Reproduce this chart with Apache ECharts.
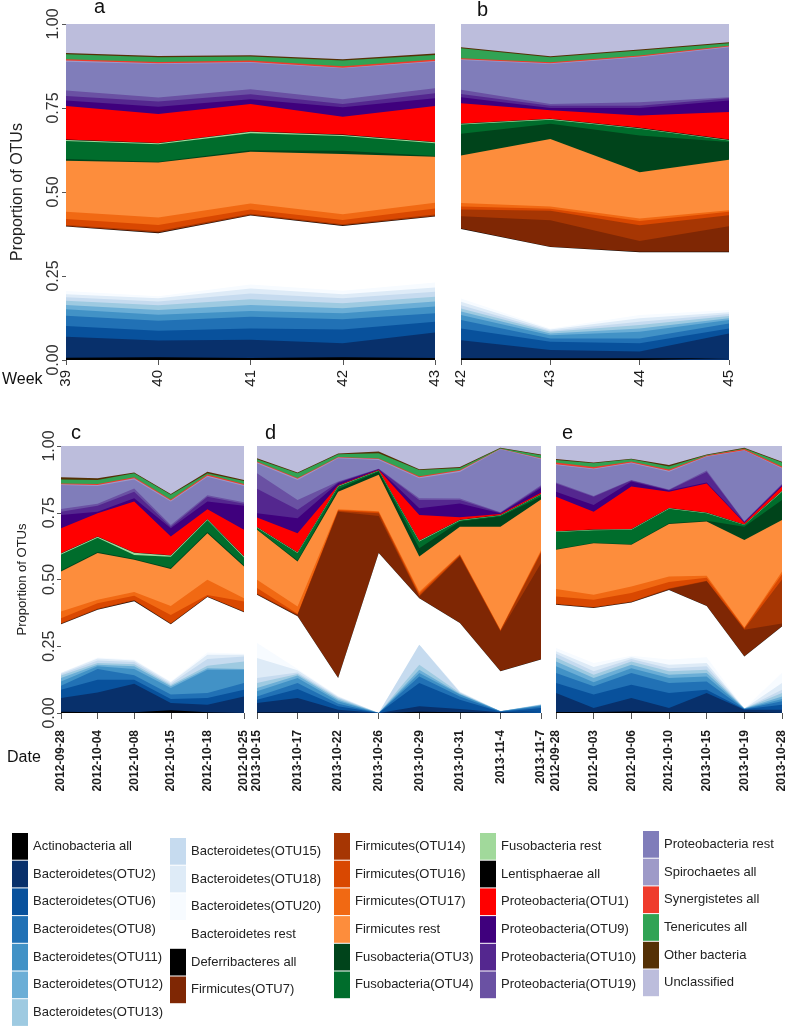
<!DOCTYPE html>
<html><head><meta charset="utf-8">
<script src="https://cdn.jsdelivr.net/npm/echarts@6/dist/echarts.min.js"></script>
<style>html,body{margin:0;padding:0;background:#fff}#chart{width:792px;height:1028px}</style>
</head><body><div id="chart"></div>
<script>
const seriesNames = ['Actinobacteria all','Bacteroidetes(OTU2)','Bacteroidetes(OTU6)','Bacteroidetes(OTU8)','Bacteroidetes(OTU11)','Bacteroidetes(OTU12)','Bacteroidetes(OTU13)','Bacteroidetes(OTU15)','Bacteroidetes(OTU18)','Bacteroidetes(OTU20)','Bacteroidetes rest','Deferribacteres all','Firmicutes(OTU7)','Firmicutes(OTU14)','Firmicutes(OTU16)','Firmicutes(OTU17)','Firmicutes rest','Fusobacteria(OTU3)','Fusobacteria(OTU4)','Fusobacteria rest','Lentisphaerae all','Proteobacteria(OTU1)','Proteobacteria(OTU9)','Proteobacteria(OTU10)','Proteobacteria(OTU19)','Proteobacteria rest','Spirochaetes all','Synergistetes all','Tenericutes all','Other bacteria','Unclassified'];
const seriesColors = ['#000000','#08306b','#08519c','#2171b5','#4292c6','#6baed6','#9ecae1','#c6dbef','#deebf7','#f7fbff','#ffffff','#000000','#7f2704','#a63603','#d94801','#f16913','#fd8d3c','#00441b','#006d2c','#a1d99b','#000000','#ff0000','#3f007d','#54278f','#6a51a3','#807dba','#9e9ac8','#ef3b2c','#31a354','#543005','#bcbddc'];
const weeksA = ['39','40','41','42','43'];
const weeksB = ['42','43','44','45'];
const datesC = ['2012-09-28','2012-10-04','2012-10-08','2012-10-15','2012-10-18','2012-10-25'];
const datesD = ['2013-10-15','2013-10-17','2013-10-22','2013-10-26','2013-10-29','2013-10-31','2013-11-4','2013-11-7'];
const datesE = ['2012-09-28','2012-10-03','2012-10-06','2012-10-10','2013-10-15','2013-10-19','2013-10-28'];
const yTicks = ['0.00','0.25','0.50','0.75','1.00'];

// rows follow seriesNames order; columns follow the panel's x categories
const panelA = [
[.007,.008,.006,.008,.006],[.062,.050,.054,.042,.076],[.032,.029,.034,.041,.032],[.031,.030,.035,.030,.025],
[.019,.018,.017,.018,.020],[.013,.014,.018,.015,.015],[.012,.014,.017,.015,.014],[.011,.011,.017,.015,.015],
[.009,.010,.015,.012,.013],[.009,.006,.012,.010,.015],[.192,.187,.205,.193,.196],[.001,.002,.001,.001,.001],
[.001,.001,.001,.001,.001],[.003,.004,.003,.003,.004],[.018,.018,.013,.013,.018],[.021,.022,.018,.017,.017],
[.152,.164,.154,.179,.137],[.005,.002,.004,.010,.002],[.054,.052,.051,.044,.038],[.003,.003,.004,.003,.003],
[.001,.001,.001,.001,.001],[.100,.086,.082,.053,.107],[.016,.022,.014,.028,.023],[.014,.015,.015,.010,.015],
[.016,.012,.015,.014,.015],[.086,.100,.079,.092,.079],[.003,.002,.002,.002,.002],[.004,.004,.004,.004,.004],
[.015,.014,.012,.017,.014],[.004,.004,.004,.004,.004],[.086,.095,.093,.105,.088]];
const panelB = [
[.005,.005,.005,.005],[.054,.025,.020,.074],[.035,.024,.025,.015],[.025,.010,.014,.015],
[.015,.010,.020,.010],[.010,.005,.010,.005],[.009,.005,.010,.007],[.010,.003,.010,.006],
[.010,.004,.010,.005],[.010,.003,.010,.007],[.207,.242,.187,.172],[.001,.001,.001,.001],
[.037,.079,.032,.076],[.020,.028,.047,.033],[.009,.006,.013,.010],[.010,.007,.007,.005],
[.142,.201,.138,.150],[.064,.045,.109,.053],[.028,.012,.020,.004],[.002,.002,.002,.002],
[.001,.001,.001,.001],[.060,.025,.037,.082],[.018,.007,.022,.034],[.010,.007,.007,.007],
[.012,.005,.010,.003],[.089,.119,.134,.149],[.002,.002,.002,.002],[.003,.003,.003,.002],
[.030,.015,.015,.008],[.003,.003,.003,.003],[.069,.096,.076,.054]];
const panelC = [
[.005,.003,.003,.010,.003,.003],[.051,.074,.107,.027,.028,.059],[.031,.048,.015,.015,.025,.025],[.015,.040,.016,.017,.019,.025],
[.016,.010,.024,.025,.087,.050],[.013,.006,.010,.006,.006,.003],[.009,.006,.008,.005,.009,.028],[.006,.010,.008,.005,.025,.019],
[.004,.007,.006,.005,.016,.006],[.002,.004,.003,.003,.009,.004],[.180,.179,.219,.214,.207,.155],[.001,.001,.001,.001,.001,.001],
[.001,.001,.001,.001,.001,.001],[.002,.002,.002,.002,.001,.002],[.019,.020,.016,.031,.005,.037],[.025,.013,.014,.034,.057,.012],
[.150,.175,.121,.138,.174,.119],[.004,.004,.003,.004,.005,.004],[.060,.053,.015,.042,.045,.029],[.003,.004,.008,.005,.003,.004],
[.001,.001,.001,.001,.001,.001],[.094,.087,.191,.070,.036,.099],[.050,.006,.012,.031,.029,.090],[.012,.022,.025,.006,.018,.008],
[.010,.008,.012,.006,.006,.005],[.090,.066,.034,.088,.069,.061],[.003,.004,.004,.004,.004,.004],[.003,.004,.004,.004,.004,.004],
[.015,.015,.015,.017,.005,.011],[.008,.006,.003,.003,.006,.004],[.117,.121,.099,.180,.096,.127]];
const panelD = [
[.002,.002,.001,0,.005,.003,.001,.002],[.035,.054,.011,0,.020,.012,.002,.005],[.013,.034,.013,0,.087,.035,.002,.012],[.012,.022,.010,0,.025,.012,.001,.006],
[.019,.019,.009,0,.013,.007,.001,.003],[.013,.009,.006,0,.012,.002,0,.002],[.018,.006,.005,0,.019,.004,0,.001],[.019,.006,.004,0,.075,.002,0,.001],
[.075,.008,.003,0,0,.003,0,.001],[.056,.005,.003,0,0,.001,0,.001],[.181,.197,.066,.599,.174,.256,.149,.166],[.001,.001,.001,.001,.001,.001,.001,.001],
[.001,.004,.622,.138,.005,.248,.148,.360],[.003,.002,.003,.010,.004,.003,.003,.039],[.020,.003,.003,.005,.008,.004,.002,.005],[.031,.027,.003,.003,.006,.002,.002,.005],
[.187,.168,.066,.136,.132,.103,.386,.190],[.002,.004,.009,.012,.031,.019,.038,.010],[.006,.028,.010,.003,.025,.004,.004,.008],[.002,.002,.002,.001,.003,.002,.001,.001],
[.001,.001,.001,.001,.001,.001,.001,.001],[.035,.071,.002,.002,.096,.009,.003,.005],[.016,.056,.008,.002,.025,.052,.003,.018],[.092,.032,.003,.001,.031,.013,.002,.005],
[.058,.037,.003,.001,.006,.005,.002,.005],[.037,.075,.087,.033,.075,.100,.236,.097],[.004,.004,.003,.003,.004,.004,.001,.003],[.003,.003,.002,.002,.004,.003,.001,.002],
[.008,.018,.010,.020,.023,.008,.002,.010],[.004,.003,.003,.006,.003,.003,.001,.003],[.046,.099,.028,.021,.087,.079,.007,.032]];
const panelE = [
[.004,.004,.006,.004,.002,.003,.003],[.071,.015,.050,.015,.073,.009,.009],[.037,.050,.050,.056,.012,.002,.019],[.038,.031,.044,.037,.031,.001,.013],
[.025,.015,.018,.019,.019,.001,.008],[.018,.016,.013,.012,.013,.001,.010],[.015,.012,.012,.013,.012,0,.013],[.014,.013,.009,.012,.013,0,.012],
[.009,.016,.007,.013,.012,0,.025],[.012,.015,.005,.019,.022,0,.038],[.162,.206,.200,.261,.192,.195,.174],[.001,.001,.001,.001,.001,.001,.001],
[.001,.001,.001,.002,.091,.099,.010],[.002,.002,.002,.002,.002,.003,.165],[.027,.027,.031,.025,.012,.003,.020],[.028,.019,.025,.020,.007,.002,.010],
[.147,.193,.156,.197,.203,.328,.193],[.002,.002,.002,.003,.003,.050,.075],[.065,.046,.054,.054,.028,.006,.031],[.002,.002,.002,.002,.002,.001,.002],
[.001,.001,.001,.001,.001,.001,.001],[.129,.067,.159,.061,.109,.006,.016],[.019,.025,.019,.004,.003,.002,.004],[.031,.031,.004,.002,.040,.002,.004],
[.003,.003,.002,.002,.005,.002,.002],[.066,.100,.062,.067,.052,.265,.058],[.003,.003,.003,.003,.002,.001,.003],[.006,.005,.004,.005,.002,.005,.004],
[.010,.014,.008,.011,.002,.002,.015],[.003,.003,.002,.006,.002,.002,.003],[.049,.062,.048,.071,.032,.007,.059]];

const FONT = '"Liberation Sans", Arial, Helvetica, sans-serif';
const panels = [
  {cats: weeksA, rows: panelA, grid: {left:66, top:24, width:369, height:336}, yLabels: true, bold: false, fs: 15, xMargin: 10, tickLen: 5, nameFs: 16, nameGap: 40, yMargin: 4},
  {cats: weeksB, rows: panelB, grid: {left:461, top:24, width:268, height:336}, yLabels: false, bold: false, fs: 15, xMargin: 10, tickLen: 5},
  {cats: datesC, rows: panelC, grid: {left:61, top:446, width:183, height:267}, yLabels: true, bold: true, fs: 12, xMargin: 17, tickLen: 6, nameFs: 13, nameGap: 32, yMargin: 3},
  {cats: datesD, rows: panelD, grid: {left:257, top:446, width:284, height:267}, yLabels: false, bold: true, fs: 12, xMargin: 17, tickLen: 6},
  {cats: datesE, rows: panelE, grid: {left:556, top:446, width:226, height:267}, yLabels: false, bold: true, fs: 12, xMargin: 17, tickLen: 6}
];

const grid = [], xAxis = [], yAxis = [], series = [];
panels.forEach((p, i) => {
  grid.push(Object.assign({containLabel: false}, p.grid));
  xAxis.push({
    type: 'category', gridIndex: i, data: p.cats, boundaryGap: false,
    axisLine: {show: false},
    axisTick: {show: true, length: p.tickLen, lineStyle: {color: '#555'}, alignWithLabel: true},
    axisLabel: {rotate: 90, interval: 0, margin: p.xMargin, fontSize: p.fs, fontWeight: p.bold ? 'bold' : 'normal', color: '#1a1a1a', fontFamily: FONT},
    splitLine: {show: false}
  });
  yAxis.push({
    type: 'value', gridIndex: i, min: 0, max: 1, interval: 0.25,
    axisLine: {show: false},
    axisTick: {show: p.yLabels, length: 4, lineStyle: {color: '#555'}},
    axisLabel: {show: p.yLabels, rotate: 90, margin: p.yMargin || 4, fontSize: 16, color: '#333', fontFamily: FONT,
      formatter: v => yTicks[Math.round(v / 0.25)]},
    splitLine: {show: false},
    name: p.yLabels ? 'Proportion of OTUs' : '',
    nameLocation: 'middle', nameRotate: 90, nameGap: p.nameGap || 40,
    nameTextStyle: {fontSize: p.nameFs || 15, color: '#222', fontFamily: FONT}
  });
  // Stacked layers: each layer is filled from the axis up to its running total and
  // drawn beneath the layers below it, so neighbouring bands overlap without seams.
  let running = p.cats.map(() => 0);
  p.rows.forEach((vals, k) => {
    running = running.map((r, j) => r + vals[j]);
    series.push({
      name: seriesNames[k], type: 'line',
      xAxisIndex: i, yAxisIndex: i, data: running.slice(),
      z: 2 + (p.rows.length - k),
      symbol: 'none', showSymbol: false, smooth: false,
      color: seriesColors[k],
      lineStyle: {width: 0, color: seriesColors[k]},
      areaStyle: {color: seriesColors[k], opacity: 1, origin: 'start'},
      emphasis: {disabled: true}, silent: true, animation: false
    });
  });
});

const legendCols = [
  {names: seriesNames.slice(0, 7), left: 12, top: 833},
  {names: seriesNames.slice(7, 13), left: 170, top: 838},
  {names: seriesNames.slice(13, 19), left: 334, top: 833},
  {names: seriesNames.slice(19, 25), left: 480, top: 833},
  {names: seriesNames.slice(25, 31), left: 643, top: 831}
];
const legend = legendCols.map(c => ({
  data: c.names.map(n => ({name: n, icon: 'rect'})),
  orient: 'vertical', left: c.left, top: c.top, padding: 0,
  itemWidth: 16, itemHeight: 26.7, itemGap: 1,
  selectedMode: false,
  textStyle: {fontSize: 13, color: '#222', fontFamily: FONT}
}));

const txt = (x, y, s, fs) => ({type: 'text', left: x, top: y, style: {text: s, fontSize: fs, fill: '#111', fontFamily: FONT}});
const graphic = [
  txt(94, -3, 'a', 20), txt(477, 0, 'b', 20),
  txt(71, 423, 'c', 20), txt(265, 423, 'd', 20), txt(562, 423, 'e', 20),
  txt(2, 372, 'Week', 16), txt(7, 750, 'Date', 16)
];

const chart = echarts.init(document.getElementById('chart'), null, {renderer: 'canvas'});
chart.setOption({backgroundColor: '#fff', animation: false, grid, xAxis, yAxis, series, legend, graphic});
</script></body></html>
